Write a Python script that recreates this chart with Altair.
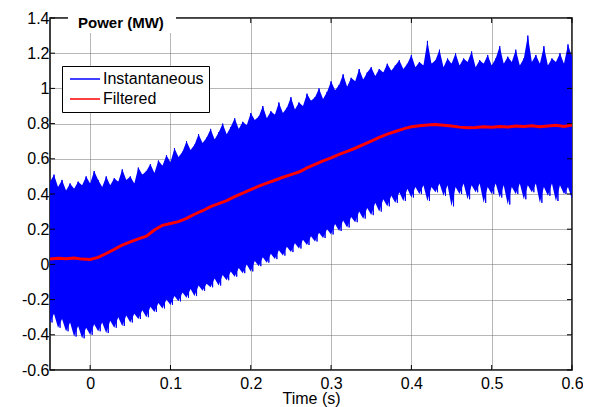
import altair as alt
import pandas as pd

FONT = "Liberation Sans"

# tick values
x_ticks = [0, 0.1, 0.2, 0.3, 0.4, 0.5, 0.6]
y_ticks = [-0.6, -0.4, -0.2, 0, 0.2, 0.4, 0.6, 0.8, 1.0, 1.2, 1.4]

# instantaneous power envelope, sampled every 5 ms from -0.05 s
upper = [0.47, 0.51, 0.44, 0.48, 0.42, 0.46, 0.43, 0.47, 0.45, 0.50,
         0.46, 0.53, 0.48, 0.44, 0.50, 0.45, 0.49, 0.47, 0.54, 0.48,
         0.50, 0.46, 0.55, 0.51, 0.53, 0.57, 0.52, 0.59, 0.56, 0.62,
         0.58, 0.66, 0.61, 0.64, 0.70, 0.65, 0.68, 0.74, 0.69, 0.72,
         0.77, 0.71, 0.75, 0.80, 0.74, 0.78, 0.83, 0.77, 0.81, 0.79,
         0.86, 0.82, 0.84, 0.90, 0.83, 0.87, 0.85, 0.92, 0.86, 0.89,
         0.95, 0.88, 0.92, 0.90, 0.97, 0.93, 0.95, 1.00, 0.94, 0.98,
         1.04, 0.99, 1.02, 1.08, 1.01, 1.06, 1.04, 1.11, 1.05, 1.09,
         1.12, 1.07, 1.11, 1.09, 1.14, 1.10, 1.13, 1.16, 1.11, 1.14,
         1.19, 1.12, 1.15, 1.13, 1.27, 1.14, 1.16, 1.22, 1.12, 1.17,
         1.14, 1.20, 1.13, 1.17, 1.15, 1.21, 1.12, 1.16, 1.14, 1.19,
         1.13, 1.17, 1.24, 1.14, 1.18, 1.15, 1.22, 1.13, 1.17, 1.30,
         1.15, 1.19, 1.14, 1.24, 1.13, 1.17, 1.15, 1.20, 1.14, 1.25,
         1.18]
lower = [-0.33, -0.28, -0.36, -0.31, -0.38, -0.33, -0.41, -0.35, -0.42, -0.36,
         -0.40, -0.34, -0.38, -0.33, -0.39, -0.32, -0.36, -0.30, -0.35, -0.29,
         -0.33, -0.28, -0.31, -0.26, -0.30, -0.24, -0.27, -0.22, -0.25, -0.20,
         -0.23, -0.18, -0.21, -0.16, -0.19, -0.14, -0.18, -0.12, -0.15, -0.11,
         -0.13, -0.08, -0.12, -0.06, -0.09, -0.04, -0.07, -0.02, -0.05, 0.00,
         -0.04, 0.02, -0.01, 0.04, 0.01, 0.06, 0.03, 0.08, 0.05, 0.10,
         0.07, 0.12, 0.09, 0.14, 0.11, 0.16, 0.13, 0.18, 0.15, 0.20,
         0.17, 0.23, 0.19, 0.25, 0.21, 0.27, 0.24, 0.30, 0.26, 0.32,
         0.28, 0.35, 0.30, 0.37, 0.33, 0.39, 0.35, 0.41, 0.36, 0.43,
         0.38, 0.44, 0.40, 0.45, 0.36, 0.44, 0.41, 0.46, 0.39, 0.45,
         0.33, 0.44, 0.40, 0.46, 0.37, 0.45, 0.41, 0.46, 0.35, 0.44,
         0.40, 0.46, 0.38, 0.45, 0.34, 0.44, 0.40, 0.46, 0.37, 0.45,
         0.41, 0.46, 0.35, 0.44, 0.39, 0.46, 0.36, 0.45, 0.40, 0.44,
         0.37]

# filtered power, sampled every 10 ms from -0.05 s
filtered = [0.030, 0.035, 0.032, 0.036, 0.030, 0.028, 0.040, 0.062, 0.085, 0.110,
            0.128, 0.145, 0.160, 0.195, 0.222, 0.232, 0.243, 0.262, 0.285, 0.305,
            0.328, 0.345, 0.362, 0.385, 0.405, 0.425, 0.445, 0.462, 0.478, 0.495,
            0.510, 0.525, 0.548, 0.568, 0.588, 0.605, 0.625, 0.642, 0.660, 0.680,
            0.700, 0.722, 0.740, 0.755, 0.770, 0.782, 0.788, 0.792, 0.795, 0.790,
            0.786, 0.780, 0.776, 0.778, 0.782, 0.779, 0.784, 0.781, 0.786, 0.783,
            0.788, 0.782, 0.786, 0.790, 0.784, 0.792]

env_t = [round(-0.05 + 0.005 * i, 4) for i in range(len(upper))]
red_t = [round(-0.05 + 0.01 * i, 3) for i in range(len(filtered))]

band_df = pd.DataFrame({"t": env_t, "lo": lower, "hi": upper})
zig_rows = []
for i, (t, u, l) in enumerate(zip(env_t, upper, lower)):
    zig_rows.append({"t": t, "v": u, "k": 2 * i, "series": "Instantaneous"})
    zig_rows.append({"t": round(t + 0.0025, 5), "v": l, "k": 2 * i + 1, "series": "Instantaneous"})
zig_df = pd.DataFrame(zig_rows)
red_df = pd.DataFrame({"t": red_t, "v": filtered, "series": ["Filtered"] * len(filtered)})

W, H = 522, 352
xs = alt.Scale(domain=[-0.05, 0.6], nice=False, zero=False)
ys = alt.Scale(domain=[-0.6, 1.4], nice=False, zero=False)
minus_fix = "replace(datum.label, '\u2212', '-')"

x_axis = alt.Axis(values=x_ticks, format=".1~f", labelExpr=minus_fix, labelBaseline="alphabetic",
                  labelPadding=18, labelFlush=False, title="Time (s)", titleY=33,
                  titleBaseline="alphabetic", grid=True)
y_axis = alt.Axis(values=y_ticks, format=".1~f", labelExpr=minus_fix, labelPadding=1,
                  labelFlush=False, title=None, grid=True)

color = alt.Color("series:N",
                  scale=alt.Scale(domain=["Instantaneous", "Filtered"], range=["#0000ff", "#ff0000"]),
                  legend=alt.Legend(title=None, orient="none", legendX=12, legendY=48,
                                    symbolType="M-3,0H3", symbolSize=100, symbolStrokeWidth=1.5,
                                    labelFont=FONT, labelFontSize=16, labelColor="black",
                                    labelOffset=10, padding=5, rowPadding=4, symbolOffset=10,
                                    strokeColor="black", fillColor="white", labelLimit=0))

X = lambda f: alt.X(f, scale=xs, axis=x_axis)
Y = lambda f: alt.Y(f, scale=ys, axis=y_axis)

band = alt.Chart(band_df).mark_area(color="#0000ff", clip=True).encode(
    x=X("t:Q"), y=Y("lo:Q"), y2="hi:Q",
)
zig = alt.Chart(zig_df).mark_line(strokeWidth=1, clip=True).encode(
    x=X("t:Q"), y=Y("v:Q"), order="k:Q", color=color,
)
red = alt.Chart(red_df).mark_line(strokeWidth=3, clip=True).encode(
    x=X("t:Q"), y=Y("v:Q"), color=color,
)

xt_df = pd.DataFrame({"t": x_ticks})
yt_df = pd.DataFrame({"v": y_ticks})
tick_bottom = alt.Chart(xt_df).mark_rule(color="black").encode(
    x=X("t:Q"), y=alt.value(H), y2=alt.value(H - 5))
tick_top = alt.Chart(xt_df).mark_rule(color="black").encode(
    x=X("t:Q"), y=alt.value(0), y2=alt.value(5))
tick_left = alt.Chart(yt_df).mark_rule(color="black").encode(
    y=Y("v:Q"), x=alt.value(0), x2=alt.value(5))
tick_right = alt.Chart(yt_df).mark_rule(color="black").encode(
    y=Y("v:Q"), x=alt.value(W), x2=alt.value(W - 5))

title_bg = alt.Chart(pd.DataFrame({"a": [0]})).mark_rect(color="white").encode(
    x=alt.value(18), x2=alt.value(126), y=alt.value(-10), y2=alt.value(15))

chart = alt.layer(band, zig, red, tick_bottom, tick_top, tick_left, tick_right, title_bg).properties(
    width=W, height=H,
    title=alt.Title(text="Power (MW)", anchor="start", frame="group", orient="top", offset=-35,
                    dx=28, font=FONT, fontSize=15, fontWeight="bold", color="black",
                    baseline="alphabetic"),
    autosize=alt.AutoSizeParams(type="none"),
    padding={"left": 42, "top": 10, "right": 11, "bottom": 37},
    background="white",
).configure_view(stroke="black", strokeWidth=1.5).configure_axis(
    labelFont=FONT, labelFontSize=16, labelColor="black",
    titleFont=FONT, titleFontSize=16, titleColor="black", titleFontWeight="normal",
    gridColor="#6e6e6e", gridDash=[1, 1], gridWidth=1, domain=False, ticks=False,
)

chart.save("out.html", embed_options={"renderer": "svg", "actions": False})
